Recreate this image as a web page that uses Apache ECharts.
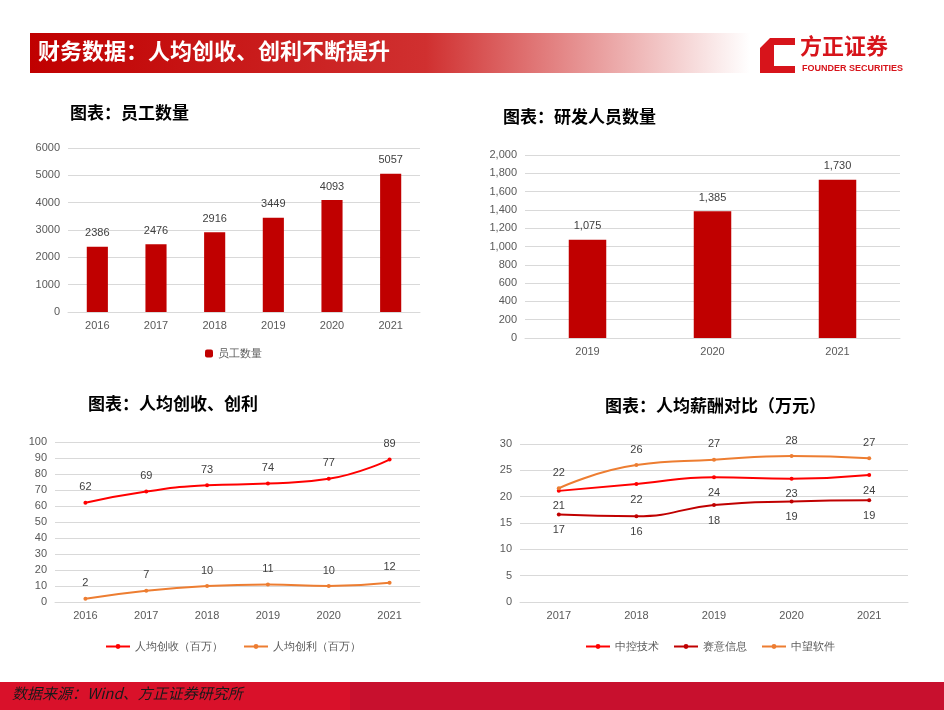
<!DOCTYPE html>
<html><head><meta charset="utf-8">
<script src="https://cdn.jsdelivr.net/npm/echarts@6/dist/echarts.min.js"></script>
<style>html,body{margin:0;padding:0;background:#fff}#main{width:944px;height:710px}</style>
</head><body><div id="main"></div>
<script>
var staffYears = ['2016','2017','2018','2019','2020','2021'];
var staffCount = [2386, 2476, 2916, 3449, 4093, 5057];
var rdYears = ['2019','2020','2021'];
var rdCount = [1075, 1385, 1730];
var perYears = ['2016','2017','2018','2019','2020','2021'];
var perRevenue = [62, 69, 73, 74, 77, 89];
var perProfit = [2, 7, 10, 11, 10, 12];
var payYears = ['2017','2018','2019','2020','2021'];
var payZK = [21.1, 22.4, 23.7, 23.4, 24.1];
var paySY = [16.6, 16.3, 18.4, 19.1, 19.3];
var payZW = [21.6, 26.0, 27.0, 27.7, 27.3];

var RED = '#c00000', BRIGHT = '#ff0000', ORANGE = '#ed7d31', DARK = '#c00000';
var font = '"Noto Sans CJK SC", sans-serif';
var axisTxt = {color:'#595959', fontSize:11, fontFamily:'Arial'};
var split = {lineStyle:{color:'#d9d9d9'}};
var catAxis = function(idx, data){
  return {type:'category', gridIndex:idx, data:data, axisTick:{show:false},
    axisLine:{lineStyle:{color:'#d9d9d9'}}, axisLabel:axisTxt};
};
var valAxis = function(idx, max, interval, fmt){
  return {type:'value', gridIndex:idx, min:0, max:max, interval:interval,
    axisLabel:Object.assign({formatter:fmt || function(v){return String(v);}}, axisTxt), splitLine:split};
};
var lbl = function(pos){ return {show:true, position:pos, color:'#404040', fontSize:11, fontFamily:'Arial', distance:8}; };
var lineS = function(name, data, color, x, pos){
  return {name:name, type:'line', xAxisIndex:x, yAxisIndex:x, data:data, smooth:true,
    symbol:'circle', symbolSize:4, lineStyle:{color:color, width:2}, itemStyle:{color:color}, label:lbl(pos)};
};
var chart = echarts.init(document.getElementById('main'));
chart.setOption({
  animation:false,
  graphic:[
    {type:'rect', shape:{x:30,y:33,width:720,height:40},
      style:{fill:new echarts.graphic.LinearGradient(0,0,1,0,[{offset:0,color:'#c00000'},{offset:0.55,color:'#d03030'},{offset:1,color:'#ffffff'}])}},
    {type:'text', left:38, top:40, style:{text:'财务数据：人均创收、创利不断提升', fill:'#fff', font:'bold 22px '+font}},
    {type:'polygon', shape:{points:[[770,38],[795,38],[795,45],[774,45],[774,66],[795,66],[795,73],[760,73],[760,48]]}, style:{fill:'#d7141b'}},
    {type:'text', left:800, top:35, style:{text:'方正证券', fill:'#d7141b', font:'bold 22px '+font}},
    {type:'text', left:802, top:64, style:{text:'FOUNDER SECURITIES', fill:'#d7141b', font:'bold 9px Arial'}},
    {type:'rect', shape:{x:0,y:682,width:944,height:28}, style:{fill:'#c8102e'}},
    {type:'rect', shape:{x:0,y:682,width:350,height:28}, style:{fill:'#d9112a'}},
    {type:'text', left:12, top:686, style:{text:'数据来源：Wind、方正证券研究所', fill:'#1a1a1a', font:'italic 15px '+font}},
    {type:'text', left:70, top:104, style:{text:'图表：员工数量', fill:'#000', font:'bold 17px '+font}},
    {type:'text', left:503, top:108, style:{text:'图表：研发人员数量', fill:'#000', font:'bold 17px '+font}},
    {type:'text', left:88, top:395, style:{text:'图表：人均创收、创利', fill:'#000', font:'bold 17px '+font}},
    {type:'text', left:605, top:397, style:{text:'图表：人均薪酬对比（万元）', fill:'#000', font:'bold 17px '+font}}
  ],
  legend:[
    {data:['员工数量'], left:200, top:343, itemWidth:8, itemHeight:8, textStyle:axisTxt},
    {data:['人均创收（百万）','人均创利（百万）'], left:100, top:636, itemWidth:24, itemHeight:6, itemGap:20, textStyle:axisTxt},
    {data:['中控技术','赛意信息','中望软件'], left:580, top:636, itemWidth:24, itemHeight:6, itemGap:14, textStyle:axisTxt}
  ],
  grid:[
    {left:68, top:148, width:352, height:164},
    {left:525, top:155, width:375, height:183},
    {left:55, top:442, width:365, height:160},
    {left:520, top:444, width:388, height:158}
  ],
  xAxis:[catAxis(0, staffYears), catAxis(1, rdYears), catAxis(2, perYears), catAxis(3, payYears)],
  yAxis:[
    valAxis(0, 6000, 1000),
    valAxis(1, 2000, 200, function(v){return v.toLocaleString('en-US');}),
    valAxis(2, 100, 10),
    valAxis(3, 30, 5)
  ],
  series:[
    {name:'员工数量', type:'bar', xAxisIndex:0, yAxisIndex:0, data:staffCount, barWidth:'36%', itemStyle:{color:RED}, label:lbl('top')},
    {name:'研发人员数量', type:'bar', xAxisIndex:1, yAxisIndex:1, data:rdCount, barWidth:'30%', itemStyle:{color:RED},
      label:Object.assign(lbl('top'), {formatter:function(p){return p.value.toLocaleString('en-US');}})},
    lineS('人均创收（百万）', perRevenue, BRIGHT, 2, 'top'),
    lineS('人均创利（百万）', perProfit, ORANGE, 2, 'top'),
    Object.assign(lineS('中控技术', payZK, BRIGHT, 3, 'bottom'), {label:Object.assign(lbl('bottom'),{formatter:function(p){return Math.round(p.value);}})}),
    Object.assign(lineS('赛意信息', paySY, DARK, 3, 'bottom'), {label:Object.assign(lbl('bottom'),{formatter:function(p){return Math.round(p.value);}})}),
    Object.assign(lineS('中望软件', payZW, ORANGE, 3, 'top'), {label:Object.assign(lbl('top'),{formatter:function(p){return Math.round(p.value);}})})
  ]
});
</script></body></html>
